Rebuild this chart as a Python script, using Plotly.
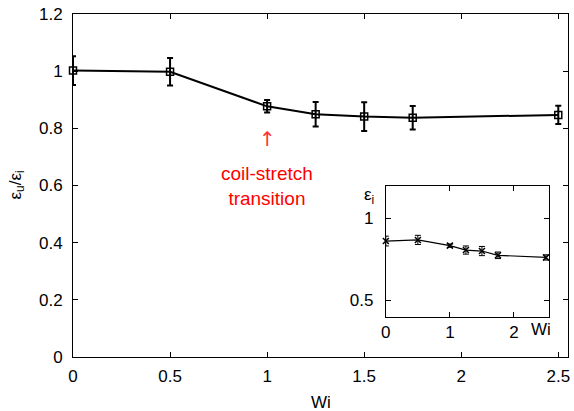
import plotly.graph_objects as go

wi = [0, 0.5, 1.0, 1.25, 1.5, 1.75, 2.5]
ratio = [1.002, 0.998, 0.877, 0.849, 0.841, 0.837, 0.847]
ratio_err = [0.05, 0.048, 0.022, 0.043, 0.05, 0.041, 0.032]

eps_i = [0.862, 0.869, 0.834, 0.807, 0.801, 0.775, 0.762]
eps_i_err = [0.03, 0.028, 0.01, 0.025, 0.028, 0.02, 0.016]

main_xticks = [0, 0.5, 1, 1.5, 2, 2.5]
main_yticks = [0, 0.2, 0.4, 0.6, 0.8, 1.0, 1.2]
main_yticklabels = ["0", "0.2", "0.4", "0.6", "0.8", "1", "1.2"]
inset_xticks = [0, 1, 2]
inset_yticks = [0.5, 1.0]
inset_yticklabels = ["0.5", "1"]

FONT = "Liberation Sans, Arial, sans-serif"
FS = 17

fig = go.Figure()
fig.add_trace(go.Scatter(
    x=wi, y=ratio, mode="lines+markers", cliponaxis=False,
    line=dict(color="black", width=2),
    marker=dict(symbol="square-open", size=7, color="black", line=dict(width=1.5)),
    error_y=dict(type="data", array=ratio_err, color="black", thickness=2, width=3),
    xaxis="x", yaxis="y", showlegend=False,
))
fig.add_trace(go.Scatter(
    x=wi, y=eps_i, mode="lines+markers", cliponaxis=False,
    line=dict(color="black", width=1.2),
    marker=dict(symbol="x-thin-open", size=6, color="black", line=dict(width=1.5, color="black")),
    error_y=dict(type="data", array=eps_i_err, color="black", thickness=1, width=3),
    xaxis="x2", yaxis="y2", showlegend=False,
))

axis_common = dict(showgrid=False, zeroline=False, showline=True, linecolor="black",
                   linewidth=1, mirror="ticks", ticks="inside", ticklen=5, automargin=False,
                   tickcolor="black", tickfont=dict(family=FONT, size=FS, color="black"))

fig.update_layout(
    width=574, height=411,
    margin=dict(l=73, r=6, t=14, b=54),
    plot_bgcolor="white", paper_bgcolor="white",
    font=dict(family=FONT, size=FS, color="black"),
    xaxis=dict(range=[0, 2.55], tickvals=main_xticks, ticktext=[str(v) for v in main_xticks],
               ticklabelstandoff=4, **axis_common),
    yaxis=dict(range=[0, 1.2], tickvals=main_yticks, ticktext=main_yticklabels,
               ticklabelstandoff=6, **axis_common),
    xaxis2=dict(domain=[0.632, 0.962], anchor="y2", range=[0, 2.55], tickvals=inset_xticks,
                ticktext=[str(v) for v in inset_xticks], ticklabelstandoff=0, **axis_common),
    yaxis2=dict(domain=[0.1175, 0.4994], anchor="x2", range=[0.4, 1.2], tickvals=inset_yticks,
                ticktext=inset_yticklabels, ticklabelstandoff=8, **axis_common),
)

# axis titles
fig.add_annotation(x=0.5, y=0, xref="paper", yref="paper", text="Wi", showarrow=False,
                   yanchor="middle", yshift=-45, font=dict(size=FS, family=FONT))
fig.add_annotation(x=0, y=0.5, xref="paper", yref="paper", text="ε<sub>u</sub>/ε<sub>i</sub>",
                   showarrow=False, textangle=-90, xanchor="center", xshift=-57,
                   font=dict(size=FS, family=FONT))

# coil-stretch annotation
fig.add_annotation(x=1, y=0.763, xref="x", yref="y", text="↑", showarrow=False,
                   font=dict(color="#ff3030", size=20, family="DejaVu Sans"))
fig.add_annotation(x=1, y=0.60, xref="x", yref="y", text="coil-stretch<br>transition",
                   showarrow=False, font=dict(color="red", size=19, family=FONT))

# inset labels
fig.add_annotation(x=2.42, y=0.4, xref="x2", yref="y2", text="Wi", showarrow=False,
                   yanchor="top", yshift=-1, font=dict(size=FS, family=FONT))
fig.add_annotation(x=0, y=1.2, xref="x2", yref="y2", text="ε<sub>i</sub>", showarrow=False,
                   xanchor="right", xshift=-10, yanchor="top", yshift=3,
                   font=dict(size=FS, family=FONT))

fig.write_html("out.html", config={"displayModeBar": False},
               post_script="document.body.style.margin='0';document.body.style.overflow='hidden';")
